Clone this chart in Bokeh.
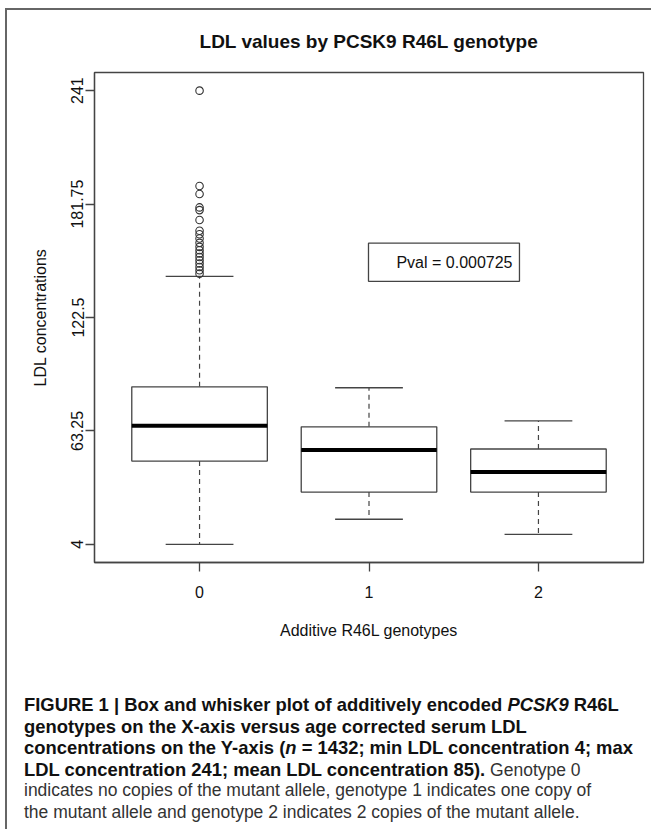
from bokeh.plotting import figure
from bokeh.models import Range1d, FixedTicker, Label, BoxAnnotation, Div
from bokeh.layouts import column
from bokeh.embed import file_html
from bokeh.resources import INLINE

# ---- data ----
genotypes = [0, 1, 2]
genotype_labels = ["0", "1", "2"]
q1 = [47.5, 31.3, 31.3]
median = [65.9, 53.3, 41.8]
q3 = [86.3, 65.4, 53.8]
whisker_low = [4.0, 17.1, 9.2]
whisker_high = [144.0, 85.8, 68.5]
outliers_g0 = [241.0, 191.2, 187.0, 180.0, 178.6, 173.4, 167.8, 166.0, 163.8,
               161.5, 159.4, 157.6, 155.9, 154.1, 152.4, 150.7, 148.9, 147.2, 145.4]
y_ticks = [4, 63.25, 122.5, 181.75, 241]
y_tick_labels = ["4", "63.25", "122.5", "181.75", "241"]
pval_text = "Pval = 0.000725"
title_text = "LDL values by PCSK9 R46L genotype"

FONT = "Liberation Sans"
LINE = "#444444"
BOXW = 0.8
CAPW = 0.4

p = figure(width=643, height=658, output_backend="svg", toolbar_location=None,
           x_range=Range1d(-0.62, 2.62), y_range=Range1d(-5.48, 250.48),
           min_border_left=87, min_border_top=62, min_border_right=7, min_border_bottom=106)
p.grid.visible = False
p.outline_line_color = LINE
p.outline_line_width = 1.3
p.background_fill_color = "white"
p.border_fill_color = "white"

p.title.text = title_text
p.title.align = "center"
p.title.vertical_align = "top"
p.title.text_font = FONT
p.title.text_font_size = "19px"
p.title.text_font_style = "bold"
p.title.text_color = "#111111"
p.title.standoff = 38

# whiskers
p.segment(x0=genotypes, x1=genotypes, y0=q3, y1=whisker_high, line_color=LINE,
          line_width=1.2, line_dash="5 4")
p.segment(x0=genotypes, x1=genotypes, y0=q1, y1=whisker_low, line_color=LINE,
          line_width=1.2, line_dash="5 4")
# caps
p.segment(x0=[g - CAPW / 2 for g in genotypes], x1=[g + CAPW / 2 for g in genotypes],
          y0=whisker_high, y1=whisker_high, line_color=LINE, line_width=1.3)
p.segment(x0=[g - CAPW / 2 for g in genotypes], x1=[g + CAPW / 2 for g in genotypes],
          y0=whisker_low, y1=whisker_low, line_color=LINE, line_width=1.3)
# boxes
p.vbar(x=genotypes, width=BOXW, bottom=q1, top=q3, fill_color="white",
       line_color=LINE, line_width=1.3)
# medians
p.segment(x0=[g - BOXW / 2 for g in genotypes], x1=[g + BOXW / 2 for g in genotypes],
          y0=median, y1=median, line_color="black", line_width=4)
# outliers
p.scatter(x=[genotypes[0]] * len(outliers_g0), y=outliers_g0, marker="circle", size=7.5,
          fill_color=None, line_color="#333333", line_width=1.1)

# axes
for ax in (p.xaxis[0], p.yaxis[0]):
    ax.axis_line_color = LINE
    ax.axis_line_width = 1.3
    ax.major_tick_line_color = LINE
    ax.major_tick_line_width = 1.3
    ax.major_tick_out = 9
    ax.major_tick_in = 0
    ax.minor_tick_line_color = None
    ax.major_label_text_font = FONT
    ax.major_label_text_font_size = "16px"
    ax.major_label_text_color = "#111111"
    ax.axis_label_text_font = FONT
    ax.axis_label_text_font_size = "16px"
    ax.axis_label_text_font_style = "normal"
    ax.axis_label_text_color = "#111111"

p.xaxis.ticker = FixedTicker(ticks=genotypes)
p.xaxis.major_label_overrides = {g: l for g, l in zip(genotypes, genotype_labels)}
p.xaxis.major_label_standoff = 14
p.xaxis.axis_label = "Additive R46L genotypes"
p.xaxis.axis_label_standoff = 21

p.yaxis.ticker = FixedTicker(ticks=y_ticks)
p.yaxis.major_label_overrides = {t: l for t, l in zip(y_ticks, y_tick_labels)}
p.yaxis.major_label_orientation = "vertical"
p.yaxis.major_label_standoff = 2
p.yaxis.axis_label = "LDL concentrations"
p.yaxis.axis_label_standoff = 20

# p-value box
p.add_layout(BoxAnnotation(left=0.997, right=1.888, bottom=141.4, top=161.3,
                           fill_color="white", fill_alpha=1.0, line_color=LINE,
                           line_width=1.3, line_alpha=1.0))
p.add_layout(Label(x=1.847, y=151.4, text=pval_text, text_align="right",
                   text_baseline="middle", text_font=FONT, text_font_size="16px",
                   text_color="#111111"))

B = 'font-weight:bold;font-size:18.4px;color:#111;'
R = 'font-size:17.5px;color:#333;'
LN = 'height:21.5px;line-height:21.5px;white-space:nowrap;'
caption_html = (
    '<div style="font-family:\'Liberation Sans\',Arial,sans-serif;font-size:17.5px;'
    'padding-left:12px;padding-top:21px;">'
    f'<div style="{LN}"><span style="{B}">FIGURE 1 | Box and whisker plot of additively encoded '
    '<i>PCSK9</i> R46L</span></div>'
    f'<div style="{LN}"><span style="{B}">genotypes on the X-axis versus age corrected serum LDL</span></div>'
    f'<div style="{LN}"><span style="{B}">concentrations on the Y-axis (<i>n</i> = 1432; min LDL '
    'concentration 4; max</span></div>'
    f'<div style="{LN}"><span style="{B}">LDL concentration 241; mean LDL concentration 85).</span>'
    f'<span style="{R}"> Genotype 0</span></div>'
    f'<div style="{LN}"><span style="{R}">indicates no copies of the mutant allele, '
    'genotype 1 indicates one copy of</span></div>'
    f'<div style="{LN}"><span style="{R}">the mutant allele and genotype 2 indicates '
    '2 copies of the mutant allele.</span></div>'
    '</div>'
)
caption = Div(text=caption_html, width=643, height=153, styles={"overflow": "hidden"})

layout = column(p, caption, spacing=0, margin=(8, 0, 0, 5),
                styles={"border-top": "2px solid #666666",
                        "border-left": "2px solid #666666"})

open("out.html", "w").write(file_html(layout, INLINE))
